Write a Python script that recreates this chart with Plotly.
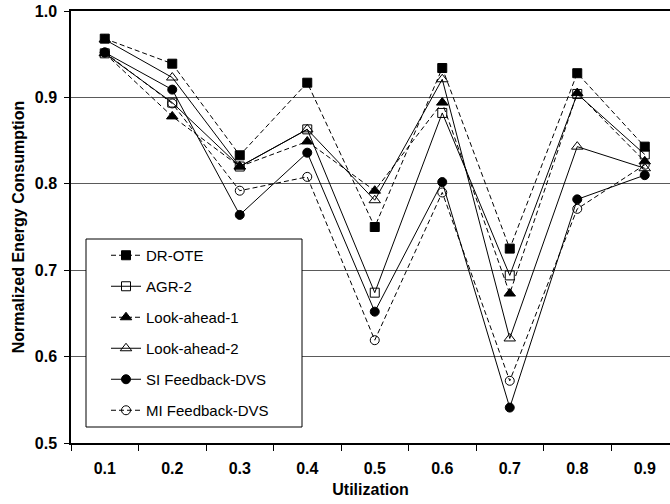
import plotly.graph_objects as go

categories = ["0.1", "0.2", "0.3", "0.4", "0.5", "0.6", "0.7", "0.8", "0.9"]
dr_ote = [0.968, 0.939, 0.833, 0.917, 0.750, 0.934, 0.725, 0.928, 0.843]
agr_2 = [0.951, 0.894, 0.820, 0.863, 0.674, 0.882, 0.694, 0.904, 0.834]
look_ahead_1 = [0.951, 0.878, 0.820, 0.849, 0.792, 0.894, 0.673, 0.905, 0.826]
look_ahead_2 = [0.967, 0.923, 0.820, 0.863, 0.781, 0.921, 0.621, 0.843, 0.818]
si_feedback = [0.952, 0.909, 0.764, 0.836, 0.652, 0.802, 0.541, 0.782, 0.810]
mi_feedback = [0.952, 0.893, 0.792, 0.808, 0.619, 0.790, 0.572, 0.771, 0.822]

series = [
    ("DR-OTE", dr_ote, "dash", "square", 9),
    ("AGR-2", agr_2, "solid", "square-open", 9),
    ("Look-ahead-1", look_ahead_1, "dash", "triangle-up", 10),
    ("Look-ahead-2", look_ahead_2, "solid", "triangle-up-open", 10),
    ("SI Feedback-DVS", si_feedback, "solid", "circle", 9),
    ("MI Feedback-DVS", mi_feedback, "dash", "circle-open", 9),
]

FONT = "Arial, Liberation Sans, sans-serif"

W, H = 670, 504
PL, PT, PB = 71, 11, 443          # plot area edges in window pixels
PW, PH = W - PL, PB - PT

fig = go.Figure()
for i, (name, vals, dash, sym, sz) in enumerate(series):
    fig.add_trace(go.Scatter(
        x=categories, y=vals, name=name, mode="lines+markers",
        legendgroup=f"g{i}",
        line=dict(color="black", width=1, dash="5px,3px" if dash == "dash" else "solid"),
        marker=dict(symbol=sym, size=sz, color="black",
                    line=dict(color="black", width=1)),
    ))

# legend frame (box drawn in paper coordinates)
fig.add_shape(type="rect", xref="paper", yref="paper",
              x0=(86 - PL) / PW, x1=(302 - PL) / PW,
              y0=(PB - 427) / PH, y1=(PB - 239) / PH,
              line=dict(color="black", width=1), fillcolor="white", layer="above")

fig.update_layout(
    width=W, height=H,
    margin=dict(l=PL, r=0, t=PT, b=H - PB),
    paper_bgcolor="white", plot_bgcolor="white",
    font=dict(family=FONT, color="black"),
    showlegend=True,
    legend=dict(
        x=(106 - PL) / PW, y=(PB - 239) / PH, xanchor="left", yanchor="top",
        bgcolor="rgba(0,0,0,0)", borderwidth=0,
        font=dict(family=FONT, size=15, color="black"),
        tracegroupgap=8.5, traceorder="grouped",
        itemwidth=30,
    ),
    xaxis=dict(
        type="category", range=[-0.5, 8.374],
        showline=True, linecolor="black", linewidth=1.5, mirror=True,
        ticks="outside", ticklen=6, tickcolor="black", tickson="boundaries",
        ticklabelstandoff=10,
        showgrid=False, zeroline=False,
        tickfont=dict(family=FONT, size=16, color="black", weight="bold"),
        title=dict(text="<b>Utilization</b>", standoff=8,
                   font=dict(family=FONT, size=16, color="black")),
    ),
    yaxis=dict(
        range=[0.5, 1.0], dtick=0.1, tickformat=".1f",
        showline=True, linecolor="black", linewidth=1.5,
        ticks="outside", ticklen=5, tickcolor="black",
        ticklabelstandoff=4,
        showgrid=True, gridcolor="#5a5a5a", gridwidth=1.3, zeroline=False,
        tickfont=dict(family=FONT, size=16, color="black", weight="bold"),
        title=dict(text="<b>Normalized Energy Consumption</b>", standoff=6,
                   font=dict(family=FONT, size=16, color="black")),
    ),
)

# remove the browser's default 8px page margin so the figure fills the window
fig.write_html("out.html", config={"displayModeBar": False},
               post_script="document.body.style.margin='0';")
